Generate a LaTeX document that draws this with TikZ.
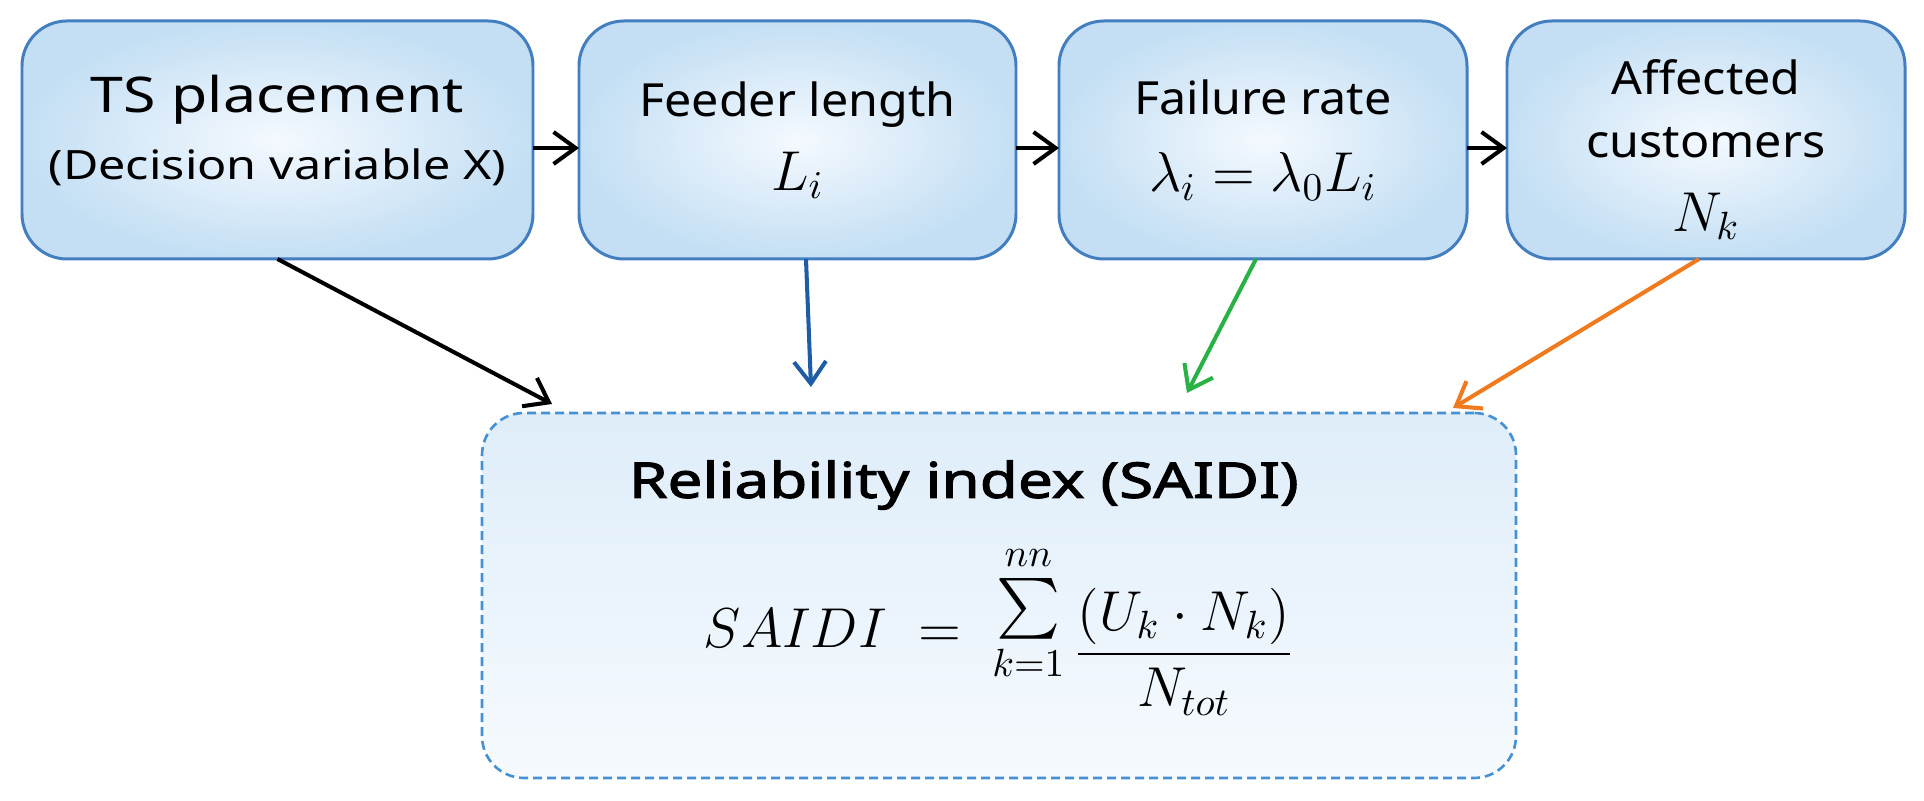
\RequirePackage{fix-cm}
\documentclass[tikz,border=0pt]{standalone}
\usepackage{amsmath}
\usepackage[no-math]{fontspec}
\setmainfont{Noto Sans}
\newfontfamily\wideface[FakeStretch=1.2]{Noto Sans}
\newfontfamily\boxface[FakeStretch=1.06]{Noto Sans}
\newfontfamily\titleface[FakeStretch=1.26,FakeBold=2.2]{Noto Sans}
\usepackage{tikz}
\usetikzlibrary{arrows.meta,positioning}
\definecolor{boxline}{RGB}{66,126,192}
\definecolor{boxin}{RGB}{244,249,254}
\definecolor{boxout}{RGB}{196,223,244}
\definecolor{dashblue}{RGB}{70,145,212}
\definecolor{saiditop}{RGB}{222,237,249}
\definecolor{saidibot}{RGB}{246,250,254}
\definecolor{linkblue}{RGB}{30,92,165}
\definecolor{linkgreen}{RGB}{40,178,70}
\definecolor{linkorange}{RGB}{240,122,30}

\begin{document}
\begin{tikzpicture}[
	tsbox/.style={draw=boxline, line width=0.85pt, rounded corners=0.45cm, inner color=boxin, outer color=boxout, minimum height=2.38cm, outer sep=0pt, inner sep=0pt, align=center},
	saidibox/.style={draw=dashblue, line width=0.75pt, dash pattern=on 0.9mm off 0.5mm, rounded corners=0.42cm, top color=saiditop, bottom color=saidibot, minimum width=10.34cm, minimum height=3.65cm, outer sep=0pt, inner sep=0pt, align=center},
	flow/.style={-{Straight Barb[length=2.2mm,width=3.2mm]}, line width=1.15pt}]
	\useasboundingbox (0,0) rectangle (19.24,-8.01);
	
	\node[tsbox, minimum width=5.11cm, font=\wideface\fontsize{14}{19}\selectfont] (ts) at (2.775,-1.40) {TS placement\\{\fontsize{11.5}{19}\selectfont (Decision variable X)}\\[-11.7pt]\mbox{}};
	\node[tsbox, minimum width=4.37cm, right=0.46cm of ts, font=\boxface\fontsize{13}{21}\selectfont] (feeder) {Feeder length\\{\fontsize{16}{21}\selectfont $L_i$}};
	\node[tsbox, minimum width=4.08cm, right=0.43cm of feeder, font=\boxface\fontsize{13}{22}\selectfont] (fail) {Failure rate\\{\fontsize{16}{22}\selectfont $\lambda_i = \lambda_0 L_i$}};
	\node[tsbox, minimum width=3.98cm, right=0.40cm of fail, font=\boxface\fontsize{13}{18}\selectfont] (cust) {\mbox{}\\[-2.5pt]Affected\\customers\\[3pt]{\fontsize{16}{18}\selectfont $N_k$}};
	
	\node[saidibox, font=\fontsize{16}{20}\selectfont] (saidi) at (9.99,-5.955) {{\titleface\fontsize{14}{20}\selectfont Reliability index (SAIDI)\hspace*{20pt}}\\[8.5pt]$SAIDI \;=\; \raisebox{7pt}{$\sum\limits_{k=1}^{nn}$}\,\raisebox{-6pt}{$\dfrac{(U_k\cdot N_k)}{N_{tot}}$}$\hspace*{6pt}\\[3.7pt]\mbox{}};
	
	\draw[flow] ([yshift=-0.08cm]ts.east) -- ([yshift=-0.08cm]feeder.west);
	\draw[flow] ([yshift=-0.08cm]feeder.east) -- ([yshift=-0.08cm]fail.west);
	\draw[flow] ([yshift=-0.08cm]fail.east) -- ([yshift=-0.08cm]cust.west);
	
	\draw[flow] (ts.south) -- ([xshift=0.70cm,yshift=0.09cm]saidi.north west);
	\draw[flow, linkblue] ([xshift=0.085cm]feeder.south) -- ([xshift=-1.88cm,yshift=0.26cm]saidi.north);
	\draw[flow, linkgreen] ([xshift=-0.07cm]fail.south) -- ([xshift=1.88cm,yshift=0.20cm]saidi.north);
	\draw[flow, linkorange] ([xshift=-0.07cm]cust.south) -- ([xshift=-0.63cm,yshift=0.05cm]saidi.north east);
\end{tikzpicture}
\end{document}
